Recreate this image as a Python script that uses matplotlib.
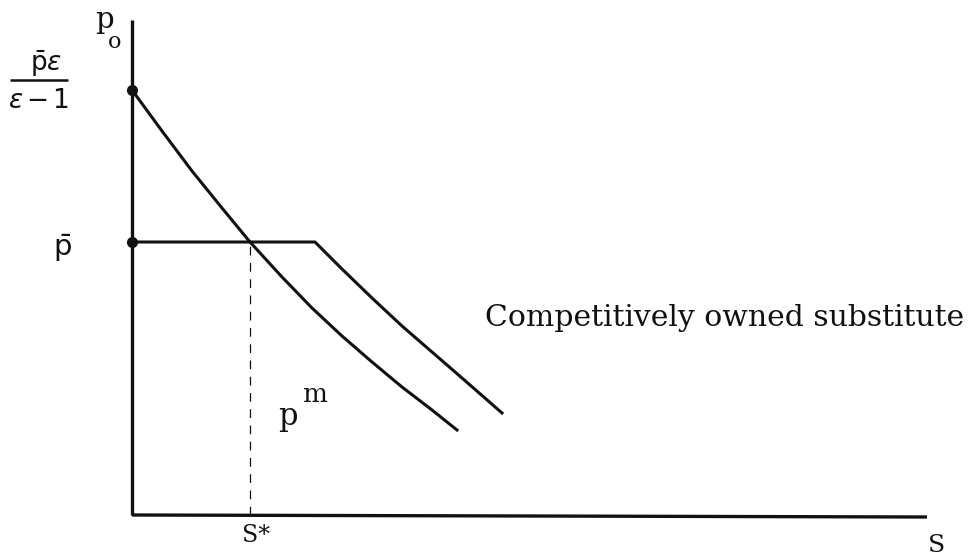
import matplotlib.pyplot as plt

# curve coordinates, origin at the axis corner
s_demand = [0, 30, 60, 90, 118, 150, 180, 210, 240, 270, 300, 325]
p_demand = [425, 384, 344, 307, 273, 238, 207, 179, 153, 128, 105, 85]

s_sub = [0, 183, 210, 240, 270, 300, 330, 370]
p_sub = [273, 273, 246, 217, 189, 163, 137, 102]

p_max = 425
p_bar = 273
s_star = 118

fig = plt.figure(figsize=(9.77, 5.59), dpi=100)
ax = fig.add_axes([0, 0, 1, 1])
ax.set_xlim(-132, 845)
ax.set_ylim(-44, 515)
ax.axis('off')

ink = '#111111'
font = 'DejaVu Serif'

# axes
ax.plot([0, 0], [0, 495], color=ink, lw=2.4, solid_capstyle='butt')
ax.plot([0, 795], [0, -2], color=ink, lw=2.4, solid_capstyle='butt')

# curves
ax.plot(s_demand, p_demand, color=ink, lw=2.2, solid_joinstyle='round')
ax.plot(s_sub, p_sub, color=ink, lw=2.2, solid_joinstyle='round')
ax.plot([0, 0], [p_max, p_bar], 'o', color=ink, ms=7)
ax.plot([s_star, s_star], [0, p_bar], color=ink, lw=0.9, ls=(0, (7, 6)))

# labels
ax.text(-28, 495, 'p', fontsize=21, family=font, ha='center', va='center', color=ink)
ax.text(-17, 473, 'o', fontsize=16, family=font, ha='center', va='center', color=ink)

# p-bar epsilon over (epsilon - 1)
ax.plot([-122, -64], [435, 435], color=ink, lw=1.8, solid_capstyle='butt')
ax.text(-86, 451, r'$\bar{\mathrm{p}}\epsilon$', fontsize=19, ha='center', va='center', color=ink)
ax.text(-93, 414, r'$\epsilon\,\mathrm{-}\,\mathrm{1}$', fontsize=19, ha='center', va='center', color=ink)

ax.text(-70, 267, r'$\bar{\mathrm{p}}$', fontsize=21, ha='center', va='center', color=ink)
ax.text(156, 99, 'p', fontsize=22, family=font, ha='center', va='center', color=ink)
ax.text(183, 121, 'm', fontsize=19, family=font, ha='center', va='center', color=ink)
ax.text(353, 197, 'Competitively owned substitute', fontsize=21.5, family=font,
        ha='left', va='center', color=ink)
ax.text(124, -21, 'S*', fontsize=17, family=font, ha='center', va='center', color=ink)
ax.text(805, -31, 'S', fontsize=18, family=font, ha='center', va='center', color=ink)

fig.savefig('out.png', dpi=100, facecolor='white')
